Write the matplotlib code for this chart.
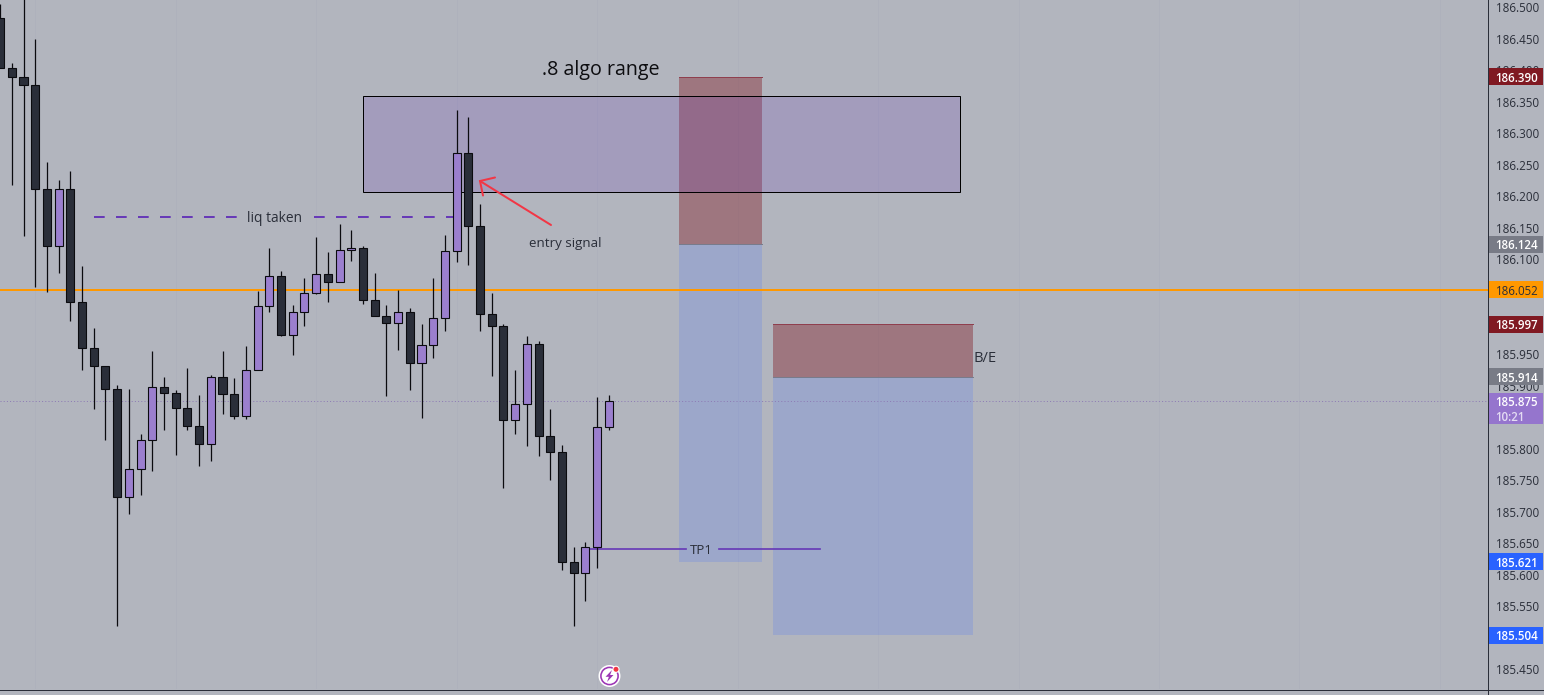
import numpy as np
import matplotlib
matplotlib.use("Agg")
import matplotlib.pyplot as plt
from matplotlib.lines import Line2D
from matplotlib.patches import Rectangle, Circle, Polygon
from matplotlib.transforms import IdentityTransform, blended_transform_factory

opens = [186.483,186.403,186.390,186.376,186.212,186.121,186.212,186.033,185.960,185.931,
         185.894,185.724,185.768,185.814,185.898,185.889,185.865,185.836,185.808,185.914,
         185.886,185.851,185.925,186.026,186.074,185.981,186.017,186.047,186.077,186.065,
         186.115,186.118,186.035,186.011,185.999,186.017,185.936,185.964,186.007,186.113,
         186.269,186.153,186.013,185.994,185.846,185.871,185.966,185.820,185.794,185.621,
         185.602,185.644,185.834]
highs = [186.506,186.412,186.530,186.450,186.254,186.226,186.241,186.089,185.991,185.931,
         185.901,185.894,185.824,185.955,185.914,185.893,185.928,185.885,185.917,185.955,
         185.912,185.963,186.050,186.118,186.082,186.028,186.071,186.136,186.112,186.156,
         186.146,186.122,186.079,186.028,186.052,186.023,185.998,186.071,186.139,186.337,
         186.326,186.188,186.047,185.998,185.925,185.979,185.970,185.863,185.806,185.644,
         185.652,185.882,185.885]
lows = [186.403,186.218,186.137,186.056,186.049,186.079,186.003,185.925,185.863,185.814,
        185.518,185.697,185.726,185.764,185.829,185.790,185.829,185.772,185.780,185.855,
        185.847,185.847,185.925,186.016,185.979,185.949,185.994,186.045,186.032,186.064,
        186.097,186.029,186.010,185.883,185.957,185.893,185.848,185.943,185.987,186.096,
        186.091,185.987,185.915,185.737,185.823,185.804,185.788,185.750,185.608,185.518,
        185.559,185.611,185.830]
closes = [186.403,186.390,186.376,186.212,186.121,186.212,186.033,185.960,185.931,185.894,
          185.724,185.768,185.814,185.898,185.889,185.865,185.836,185.808,185.914,185.886,
          185.851,185.925,186.026,186.074,185.981,186.017,186.047,186.077,186.065,186.115,
          186.118,186.035,186.011,185.999,186.017,185.936,185.964,186.007,186.113,186.269,
          186.153,186.013,185.994,185.846,185.871,185.966,185.820,185.794,185.621,185.602,
          185.644,185.834,185.875]

tick_prices = [186.500,186.450,186.400,186.350,186.300,186.250,186.200,186.150,186.100,
               185.950,185.900,185.800,185.750,185.700,185.650,185.600,185.550,185.450]
hline_price = 186.052
last_price = 185.875
zone_top, zone_bottom = 186.359, 186.207
long1_stop, long1_entry, long1_target = 186.390, 186.124, 185.621
long2_stop, long2_entry, long2_target = 185.997, 185.914, 185.504
liq_price = 186.168
tp_price = 185.641

BG = "#b2b5be"; DARK = "#2a2e39"; PURPLE = "#9b7fce"; EDGE = "#0b0b0f"
TXT = "#2a2e39"
FONT = "Open Sans"

plt.rcParams["font.family"] = [FONT, "DejaVu Sans"]
plt.rcParams["lines.scale_dashes"] = False
plt.rcParams["axes.axisbelow"] = True

W, H = 1544, 695
PANE_W, PANE_H = 1487.5, 689
fig = plt.figure(figsize=(W/100, H/100), dpi=100, facecolor=BG)
ax = fig.add_axes([0, (H-PANE_H)/H, PANE_W/W, PANE_H/H], facecolor=BG)

X0, DX = 0.1, 11.706
Y0, PY = 7.3, 630.5
ax.set_xlim(-X0/DX, (PANE_W-X0)/DX)
ax.set_ylim(186.5-(PANE_H-Y0)/PY, 186.5+Y0/PY)

px = 0.72
xs = np.arange(len(opens))

# axes
ax.set_xticks(np.arange(3, 130, 12))
ax.set_xticklabels([])
ax.tick_params(axis="x", length=0)
ax.grid(True, axis="x", color="#aeb1bc", lw=1*px)
ax.yaxis.tick_right()
ax.set_yticks(tick_prices)
ax.set_yticklabels([f"{p:.3f}" for p in tick_prices], fontsize=8.4, color=TXT)
ax.tick_params(axis="y", length=0, pad=5.9)
for s in ["top", "left", "bottom", "right"]:
    ax.spines[s].set_visible(False)

# position tools
def box(x0, x1, p0, p1, color, alpha, z=1.0):
    ax.add_patch(Rectangle((x0, p0), x1-x0, p1-p0, facecolor=color, alpha=alpha,
                           edgecolor="none", zorder=z))

L1 = (58.0, 65.06)
L2 = (66.03, 83.11)
box(*L1, long1_entry, long1_stop, "#801922", 0.40)
box(*L1, long1_target, long1_entry, "#446fff", 0.20)
box(*L2, long2_entry, long2_stop, "#801922", 0.40)
box(*L2, long2_target, long2_entry, "#446fff", 0.20)
for (a, b), stop, entry in ((L1, long1_stop, long1_entry), (L2, long2_stop, long2_entry)):
    ax.plot([a, b], [stop, stop], color="#8f3f4e", lw=1*px, zorder=1.1)
    ax.plot([a, b], [entry, entry], color="#787b8c", lw=1*px, zorder=1.1)
ax.add_patch(Rectangle((31.04, zone_bottom), 51, zone_top-zone_bottom,
                       facecolor=(0.404, 0.227, 0.718, 0.2), edgecolor="#000000",
                       lw=1*px, zorder=1.2))

# horizontal lines
ax.axhline(last_price, color="#8d7bb5", lw=1*px, ls=(0, (1*px, 2.2*px)), zorder=1.4)
ax.axhline(hline_price, color="#ff9800", lw=2*px, zorder=1.5)

# candles
for i in xs:
    up = closes[i] >= opens[i]
    lo, hi = sorted((opens[i], closes[i]))
    ax.vlines(i, lows[i], highs[i], color=EDGE, lw=1.25*px, zorder=3)
    ax.add_patch(Rectangle((i-0.345, lo), 0.69, hi-lo,
                           facecolor=PURPLE if up else DARK,
                           edgecolor=EDGE, lw=1.1*px, zorder=3.1))

# liq taken
dash = (0, (10.7*px, 11.3*px))
ax.plot([8.05, 20.25], [liq_price]*2, color="#673ab7", lw=2*px, ls=dash,
        dash_capstyle="butt", zorder=2)
ax.plot([26.84, 39.03], [liq_price]*2, color="#673ab7", lw=2*px, ls=dash,
        dash_capstyle="butt", zorder=2)
ax.text(23.48, liq_price, "liq taken", fontsize=9.9, color=TXT, ha="center",
        va="center_baseline", zorder=4)

# TP1
ax.plot([49.97, 58.57], [tp_price]*2, color="#673ab7", lw=1.7*px, zorder=2)
ax.plot([61.44, 70.04], [tp_price]*2, color="#673ab7", lw=1.7*px, zorder=2)
ax.text(59.95, tp_price, "TP1", fontsize=9.6, color=TXT, ha="center",
        va="center_baseline", zorder=4)

ax.text(48.3, 186.128, "entry signal", fontsize=9.6, color=TXT, ha="center",
        va="center_baseline", zorder=4)
ax.text(84.18, 185.946, "B/E", fontsize=10.6, color=TXT, ha="center",
        va="center_baseline", zorder=4)
ax.text(51.33, 186.405, ".8 algo range", fontsize=14.1, color="#0d0d10", ha="center",
        va="center_baseline", zorder=4)

# arrow drawn in data coordinates of the pane
def to_data(xp, yp):
    return (xp-X0)/DX, 186.5-(yp-Y0)/PY
shaft = [to_data(551, 225), to_data(480, 181)]
barbs = [to_data(495, 177.5), to_data(480, 181), to_data(483, 195.5)]
ax.plot(*zip(*shaft), color="#f23645", lw=2*px, zorder=5, solid_capstyle="round")
ax.plot(*zip(*barbs), color="#f23645", lw=2*px, zorder=5, solid_capstyle="round",
        solid_joinstyle="miter")

# price badges
trans = blended_transform_factory(ax.transAxes, ax.transData)
xr = W/PANE_W
TX = 1.00545
def badge(price, text, color, tc="white", weight="semibold", h=17.0):
    hh = h/PY/2
    ax.add_patch(Rectangle((1.0004, price-hh), xr-1.0004-0.0006, 2*hh, transform=trans,
                           facecolor=color, edgecolor="none", clip_on=False, zorder=6))
    ax.text(TX, price, text, transform=trans, color=tc, fontsize=8.3,
            fontweight=weight, va="center_baseline", ha="left", clip_on=False, zorder=7)

badge(186.390, "186.390", "#801922")
badge(186.124, "186.124", "#787b86")
badge(185.997, "185.997", "#801922")
badge(185.914, "185.914", "#787b86")
badge(185.621, "185.621", "#2962ff")
badge(185.504, "185.504", "#2962ff")
badge(186.052, "186.052", "#ff9800", tc=TXT, weight="normal")
ax.add_patch(Rectangle((1.0004, 185.875-23/PY), xr-1.001, 31.5/PY, transform=trans,
                       facecolor="#9575cd", edgecolor="none", clip_on=False, zorder=6))
ax.text(TX, 185.875, "185.875", transform=trans, color="white", fontsize=8.3,
        fontweight="semibold", va="center_baseline", clip_on=False, zorder=7)
ax.text(TX, 185.875-14.5/PY, "10:21", transform=trans, color="#e4dcf3", fontsize=8.3,
        fontweight="semibold", va="center_baseline", clip_on=False, zorder=7)

# frame lines of the price scale and time scale
idt = IdentityTransform()
fig.add_artist(Line2D([1487.5, 1487.5], [0, H], color=DARK, lw=1*px, transform=idt))
fig.add_artist(Line2D([0, W], [H-689.5, H-689.5], color=DARK, lw=1*px, transform=idt))

# small lightning badge
cx, cy = 609.5, H-676
fig.add_artist(Circle((cx, cy), 11, facecolor="white", edgecolor="none", transform=idt))
fig.add_artist(Circle((cx, cy), 8.6, facecolor="white", edgecolor="#9c36b5", lw=1.6*px, transform=idt))
bolt = [(2.5, 6), (-4, -0.8), (-0.6, -0.8), (-2.5, -6), (4, 1), (0.6, 1)]
fig.add_artist(Polygon([(cx+a, cy+b) for a, b in bolt], closed=True, facecolor="#9c36b5",
                       edgecolor="none", transform=idt))
fig.add_artist(Circle((616, H-669.3), 3.6, facecolor="white", edgecolor="none", transform=idt))
fig.add_artist(Circle((616, H-669.3), 2.5, facecolor="#f23645", edgecolor="none", transform=idt))

fig.savefig("out.png", dpi=100, facecolor=BG)
